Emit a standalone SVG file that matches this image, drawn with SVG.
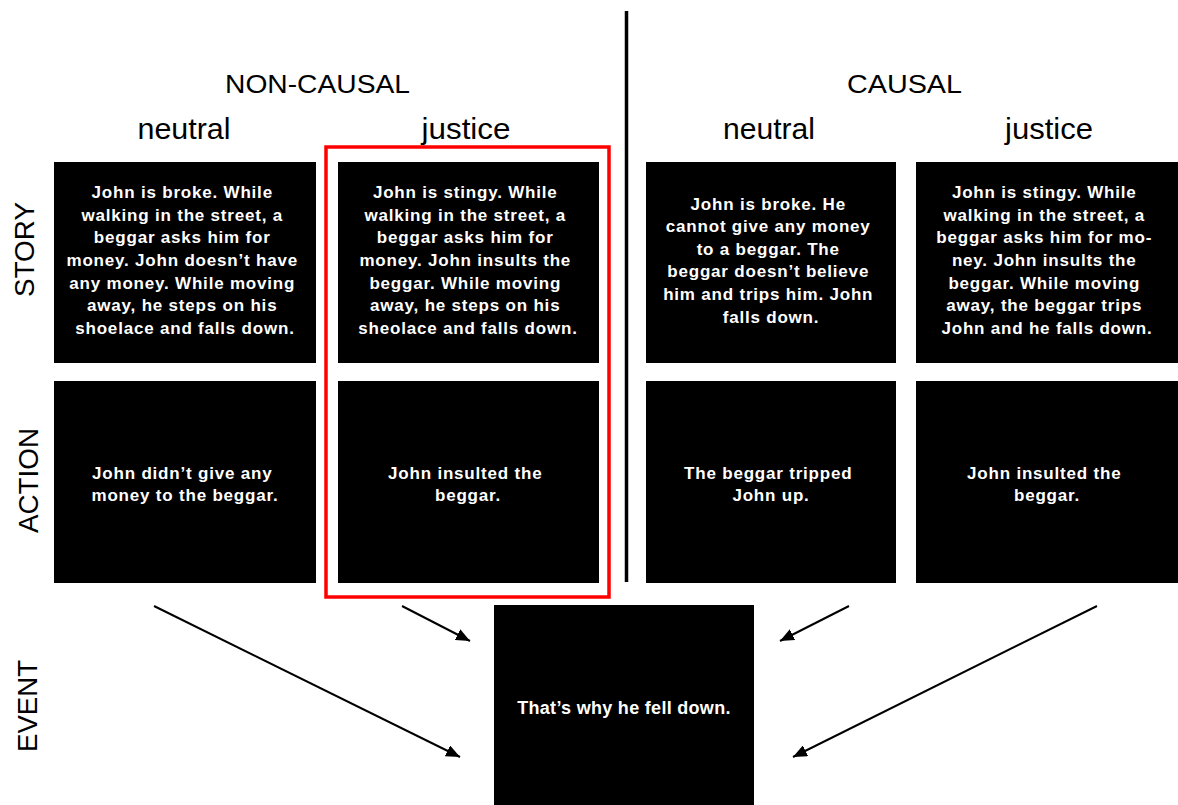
<svg xmlns="http://www.w3.org/2000/svg" width="1178" height="805" viewBox="0 0 1178 805">
<style>
.box { fill: #000; }
.body { font-family: "Liberation Sans", Arial, sans-serif; font-weight: bold; font-size: 17px; fill: #fff; text-anchor: middle; letter-spacing: 0.8px; }
.hdr { font-family: "Liberation Sans", Arial, sans-serif; font-size: 26px; fill: #000; text-anchor: middle; }
.sub { font-family: "Liberation Sans", Arial, sans-serif; font-size: 29px; fill: #000; text-anchor: middle; }
.row { font-family: "Liberation Sans", Arial, sans-serif; font-size: 27px; fill: #000; text-anchor: middle; }
.conn { stroke: #000; stroke-width: 2; fill: none; marker-end: url(#ah); }
</style>
<defs>
<marker id="ah" markerUnits="userSpaceOnUse" markerWidth="14" markerHeight="12" refX="14" refY="6" orient="auto">
<path d="M0,0 L14,6 L0,12 z" fill="#000"/>
</marker>
</defs>
<rect width="1178" height="805" fill="#fff"/>

<g id="headers">
<text class="hdr" x="317.5" y="93" textLength="185" lengthAdjust="spacingAndGlyphs">NON-CAUSAL</text>
<text class="hdr" x="904.5" y="93" textLength="115" lengthAdjust="spacingAndGlyphs">CAUSAL</text>
<text class="sub" x="184" y="139" textLength="93" lengthAdjust="spacingAndGlyphs">neutral</text>
<text class="sub" x="466" y="139" textLength="89" lengthAdjust="spacingAndGlyphs">justice</text>
<text class="sub" x="769" y="139" textLength="92" lengthAdjust="spacingAndGlyphs">neutral</text>
<text class="sub" x="1049" y="139" textLength="88" lengthAdjust="spacingAndGlyphs">justice</text>
</g>

<g id="row-labels">
<text class="row" transform="translate(34,249.5) rotate(-90)" textLength="95" lengthAdjust="spacingAndGlyphs">STORY</text>
<text class="row" transform="translate(38,480.5) rotate(-90)" textLength="105" lengthAdjust="spacingAndGlyphs">ACTION</text>
<text class="row" transform="translate(37,706) rotate(-90)" textLength="92" lengthAdjust="spacingAndGlyphs">EVENT</text>
</g>

<g id="divider">
<line x1="626.5" y1="11" x2="626.5" y2="582" stroke="#000" stroke-width="3.5"/>
</g>

<g id="story-noncausal-neutral">
<rect class="box" x="54" y="162" width="262" height="201"/>
<text class="body" x="185">
<tspan x="185" y="198.2">John is broke. While</tspan>
<tspan x="185" y="220.8">walking in the street, a</tspan>
<tspan x="185" y="243.4">beggar asks him for</tspan>
<tspan x="185" y="266">money. John doesn’t have</tspan>
<tspan x="185" y="288.6">any money. While moving</tspan>
<tspan x="185" y="311.2">away, he steps on his</tspan>
<tspan x="185" y="333.8">shoelace and falls down.</tspan>
</text>
</g>

<g id="story-noncausal-justice">
<rect class="box" x="338" y="162" width="261" height="201"/>
<text class="body">
<tspan x="468" y="198.2">John is stingy. While</tspan>
<tspan x="468" y="220.8">walking in the street, a</tspan>
<tspan x="468" y="243.4">beggar asks him for</tspan>
<tspan x="468" y="266">money. John insults the</tspan>
<tspan x="468" y="288.6">beggar. While moving</tspan>
<tspan x="468" y="311.2">away, he steps on his</tspan>
<tspan x="468" y="333.8">sheolace and falls down.</tspan>
</text>
</g>

<g id="story-causal-neutral">
<rect class="box" x="646" y="162" width="250" height="201"/>
<text class="body">
<tspan x="771" y="209.5">John is broke. He</tspan>
<tspan x="771" y="232.1">cannot give any money</tspan>
<tspan x="771" y="254.7">to a beggar. The</tspan>
<tspan x="771" y="277.3">beggar doesn’t believe</tspan>
<tspan x="771" y="299.9">him and trips him. John</tspan>
<tspan x="771" y="322.5">falls down.</tspan>
</text>
</g>

<g id="story-causal-justice">
<rect class="box" x="916" y="162" width="262" height="201"/>
<text class="body">
<tspan x="1047" y="198.2">John is stingy. While</tspan>
<tspan x="1047" y="220.8">walking in the street, a</tspan>
<tspan x="1047" y="243.4">beggar asks him for mo-</tspan>
<tspan x="1047" y="266">ney. John insults the</tspan>
<tspan x="1047" y="288.6">beggar. While moving</tspan>
<tspan x="1047" y="311.2">away, the beggar trips</tspan>
<tspan x="1047" y="333.8">John and he falls down.</tspan>
</text>
</g>

<g id="action-noncausal-neutral">
<rect class="box" x="54" y="381" width="262" height="202"/>
<text class="body">
<tspan x="185" y="478.5">John didn’t give any</tspan>
<tspan x="185" y="500.5">money to the beggar.</tspan>
</text>
</g>

<g id="action-noncausal-justice">
<rect class="box" x="338" y="381" width="261" height="202"/>
<text class="body">
<tspan x="468" y="478.5">John insulted the</tspan>
<tspan x="468" y="500.5">beggar.</tspan>
</text>
</g>

<g id="action-causal-neutral">
<rect class="box" x="646" y="381" width="250" height="202"/>
<text class="body">
<tspan x="771" y="478.5">The beggar tripped</tspan>
<tspan x="771" y="500.5">John up.</tspan>
</text>
</g>

<g id="action-causal-justice">
<rect class="box" x="916" y="381" width="262" height="202"/>
<text class="body">
<tspan x="1047" y="478.5">John insulted the</tspan>
<tspan x="1047" y="500.5">beggar.</tspan>
</text>
</g>

<g id="highlight">
<rect x="326" y="147" width="283" height="450" fill="none" stroke="#ff0000" stroke-width="3.5"/>
</g>

<g id="event">
<rect class="box" x="494" y="605" width="260" height="200"/>
<text class="body" x="624" y="714" style="font-size:18px;letter-spacing:0.3px">That’s why he fell down.</text>
</g>

<g id="connectors">
<line class="conn" x1="154" y1="606" x2="460" y2="757"/>
<line class="conn" x1="402" y1="606" x2="470" y2="641"/>
<line class="conn" x1="849" y1="606" x2="780" y2="641"/>
<line class="conn" x1="1097" y1="606" x2="793" y2="757"/>
</g>
</svg>
